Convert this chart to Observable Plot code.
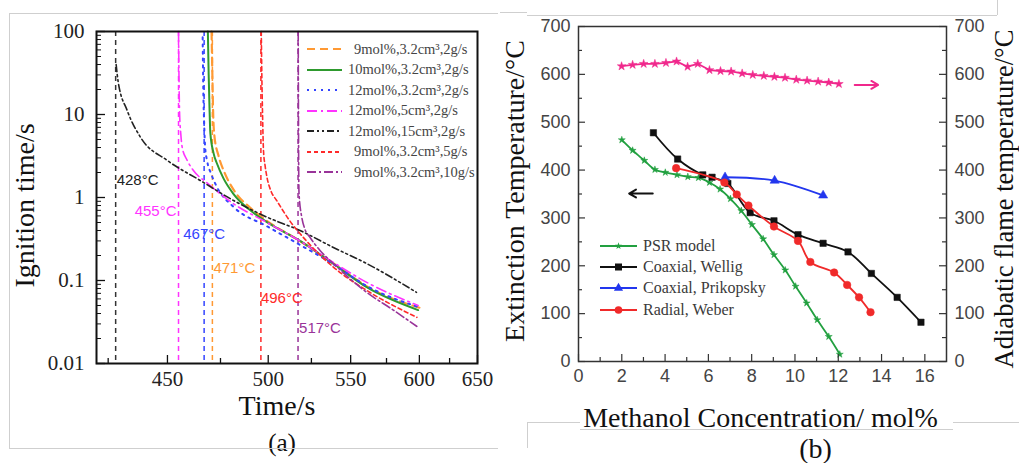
<!DOCTYPE html>
<html><head><meta charset="utf-8">
<script src="https://cdn.jsdelivr.net/npm/d3@7"></script>
<script src="https://cdn.jsdelivr.net/npm/@observablehq/plot@0.6"></script>
<style>
body{margin:0;background:#fff;width:1019px;height:463px;overflow:hidden;position:relative;font-family:"Liberation Serif",serif;}
.abs{position:absolute;}
.gl{position:absolute;background:#cfcfcf;}
.leg{position:absolute;display:flex;align-items:center;white-space:nowrap;}
</style></head><body>
<div id="pa" class="abs" style="left:0;top:0;width:500px;height:463px"></div>
<div id="pb" class="abs" style="left:500px;top:0;width:519px;height:463px"></div>
<div id="legA"></div>
<div id="legB"></div>
<div id="lines"></div>
<script>
// ---------- Panel (a) data ----------
const namesA = ["9mol%,3.2cm³,2g/s","10mol%,3.2cm³,2g/s","12mol%,3.2cm³,2g/s","12mol%,5cm³,2g/s","12mol%,15cm³,2g/s","9mol%,3.2cm³,5g/s","9mol%,3.2cm³,10g/s"];
const c9_32_2  = [[470.6,100],[471,30],[471.4,10],[472,5.5],[474,3.2],[477,2.0],[482,1.2],[490,0.76],[500,0.51],[518,0.30],[540,0.155],[562,0.083],[600,0.047]];
const c10_32_2 = [[468.8,100],[469.2,30],[469.6,12],[470,6],[471.6,3.4],[473.3,2.55],[476.5,1.7],[481.6,1.1],[490.3,0.70],[499.3,0.505],[518.2,0.30],[538.7,0.159],[560.9,0.083],[599,0.044]];
const c12_32_2 = [[466.3,85],[466.6,20],[467,8],[467.5,4],[468.4,2.8],[470.5,1.9],[473.3,1.33],[481.6,0.77],[499.3,0.45],[518,0.27],[538.7,0.157],[560.9,0.086],[599,0.048]];
const c12_5_2  = [[455,100],[455.2,30],[455.5,10],[456,6],[456.7,4.0],[459,2.8],[462,2.1],[468.4,1.5],[481.6,0.84],[499.3,0.5],[518,0.3],[538.7,0.165],[560.9,0.095],[599,0.05]];
const c12_15_2 = [[428.2,40],[429,25],[432.7,11.2],[438.3,5.3],[449.9,2.8],[465.2,1.6],[481.6,0.92],[499.3,0.58],[518.2,0.40],[538.7,0.25],[560.9,0.16],[597.7,0.072]];
const c9_32_5  = [[496.2,100],[496.5,30],[496.9,10],[497.4,3.7],[498.3,2.4],[499.3,1.76],[501.5,1.2],[504.7,0.92],[512,0.53],[522,0.30],[538.7,0.145],[560.9,0.076],[598,0.036]];
const c9_32_10 = [[517.1,100],[517.2,20],[517.3,5],[517.4,2],[517.6,1.1],[519.2,0.58],[521,0.42],[524.2,0.33],[530.3,0.23],[538.7,0.16],[560.9,0.072],[580,0.044],[598,0.028]];
const curvesA = [c9_32_2,c10_32_2,c12_32_2,c12_5_2,c12_15_2,c9_32_5,c9_32_10];
const onsetT = [428,455,467,471,496,517];
const onsetLabel = ["428°C","455°C","467°C","471°C","496°C","517°C"];
const onsetLabelV = [1.6,0.68,0.36,0.14,0.061,0.0264];
const xTicksA = [450,500,550,600,650];
const xMinorA = [425,475,525,575,625];
const yTicksA = [0.01,0.1,1,10,100];
// styles
const colorsA = ["#ff9933","#2e9a2e","#3344ff","#ff33ff","#222222","#ff2a2a","#993399"];
const dashA = ["8,5",null,"2,5","10,4,2,4","7,3,2,3,2,3","4,3","9,3,2,3"];
const widthA = [2.2,2,2,1.6,1.6,1.6,1.6];
const onsetColor = ["#333333","#ff33ff","#3344ff","#ff9933","#ff2a2a","#993399"];
const onsetAnchor = ["start","end","middle","start","start","start"];
const onsetDx = [1,-2,0,1,0,1];

// ---------- Panel (b) data ----------
const psrX = [2.0,2.5,3.04,3.53,4.01,4.55,5.05,5.54,6.05,6.54,7.02,7.52,8.01,8.53,9.03,9.55,10.03,10.54,11.03,11.56,12.07];
const psrY = [463,441,420,401,395,390,386,384,374,360,340,315,286,256,223,191,157,122,87,52,15];
const wellX = [3.46,4.58,5.74,6.17,6.9,7.93,9.03,10.14,11.3,12.45,13.53,14.72,15.82];
const wellY = [478,423,390,385,372,311,294,265,247,229,184,134,82];
const prikX = [6.77,9.06,11.3];
const prikY = [385,378,347];
const webX = [4.51,6.74,7.31,7.85,9.03,10.14,10.71,11.81,12.41,12.96,13.49];
const webY = [404,374,349,326,282,252,208,186,160,134,103];
const adiaX = [1.99,2.5,3.01,3.53,4.04,4.53,5.04,5.51,6.05,6.56,7.05,7.56,8.05,8.56,9.05,9.54,10.06,10.56,11.07,11.56,12.03];
const adiaY = [617,620,622,622,624,627,616,622,609,607,606,602,599,597,595,593,589,587,585,583,580];
const namesB = ["PSR model","Coaxial, Wellig","Coaxial, Prikopsky","Radial, Weber"];
const arrowLeftX = [3.43,2.34], arrowLeftY = [351,351];
const arrowRightX = [12.76,13.84], arrowRightY = [578,578];
const xTicksB = [0,2,4,6,8,10,12,14,16];
const xMinorB = [1,3,5,7,9,11,13,15];
const yTicksB = [0,100,200,300,400,500,600,700];
const yMinorB = [50,150,250,350,450,550,650];
const colorsB = ["#22a040","#111111","#2236ee","#f02a2a"];
const symbolsB = ["star","square","triangle","circle"];
const rB = [2.2,3.6,3.4,3.8];
const adiaColor = "#f0288c";

// ---------- Panel (a) plot ----------
const WA=500,HA=463,mA={l:96,r:23,t:31,b:100};
const fwA=WA-mA.l-mA.r, fhA=HA-mA.t-mA.b;
const yMinorA=[]; [0.01,0.1,1,10].forEach(d=>{for(let k=2;k<10;k++) yMinorA.push(d*k);});
const marksA=[];
onsetT.forEach((t,i)=>marksA.push(Plot.ruleX([t],{x:d=>d,stroke:onsetColor[i],strokeWidth:1.5,strokeDasharray:"5,4"})));
curvesA.forEach((c,i)=>marksA.push(Plot.line(c,{x:d=>d[0],y:d=>d[1],stroke:colorsA[i],strokeWidth:widthA[i],strokeDasharray:dashA[i]||undefined,curve:"monotone-x"})));
onsetT.forEach((t,i)=>marksA.push(Plot.text([onsetLabel[i]],{x:()=>t,y:()=>onsetLabelV[i],text:d=>d,fill:onsetColor[i]==="#333333"?"#222":onsetColor[i],textAnchor:onsetAnchor[i],dx:onsetDx[i],fontFamily:"Liberation Sans",fontSize:15})));
marksA.push(
  Plot.tickY(yTicksA,{y:d=>d,insetRight:fwA-9,stroke:"#111",strokeWidth:1.3}),
  Plot.tickY(yMinorA,{y:d=>d,insetRight:fwA-5,stroke:"#111",strokeWidth:1}),
  Plot.tickX(xTicksA,{x:d=>d,insetTop:fhA-8,stroke:"#111",strokeWidth:1.3}),
  Plot.tickX(xMinorA,{x:d=>d,insetTop:fhA-5,stroke:"#111",strokeWidth:1.3}),
  Plot.axisY({ticks:yTicksA,tickSize:0,tickPadding:12,tickFormat:d=>String(d),label:null,fontSize:21,fill:"#222"}),
  Plot.axisX({ticks:xTicksA,tickSize:0,tickPadding:8,tickFormat:d=>String(d),label:null,fontSize:21,fill:"#222"}),
  Plot.frame({stroke:"#111",strokeWidth:2}),
  Plot.text(["Ignition time/s"],{frameAnchor:"left",textAnchor:"middle",lineAnchor:"middle",rotate:-90,dx:-71,dy:8,fontSize:28,fill:"#111"}),
  Plot.text(["Time/s"],{frameAnchor:"bottom",textAnchor:"middle",lineAnchor:"middle",dy:43,dx:-10,fontSize:28,fill:"#111"}),
  Plot.text(["(a)"],{frameAnchor:"bottom",textAnchor:"middle",lineAnchor:"middle",dy:79,dx:-5,fontSize:25,fill:"#111"})
);
const plotA = Plot.plot({
  width:WA,height:HA,marginLeft:mA.l,marginRight:mA.r,marginTop:mA.t,marginBottom:mA.b,
  x:{type:"pow",exponent:-1,domain:[420.4,650]},
  y:{type:"log",domain:[0.01,100]},
  style:{fontFamily:"Liberation Serif",fontSize:"21px",background:"transparent",color:"#222"},
  marks:marksA
});
document.getElementById("pa").appendChild(plotA);

// ---------- Panel (b) plot ----------
const WB=519,HB=463,mB={l:78,r:73,t:26,b:102};
const fwB=WB-mB.l-mB.r, fhB=HB-mB.t-mB.b;
const seriesB=[[psrX,psrY],[wellX,wellY],[prikX,prikY],[webX,webY]];
const marksB=[];
const pairs=(X,Y)=>X.map((x,i)=>({x,y:Y[i]}));
marksB.push(Plot.line(pairs(adiaX,adiaY),{x:"x",y:"y",stroke:adiaColor,strokeWidth:1.8}));
marksB.push(Plot.dot(pairs(adiaX,adiaY),{x:"x",y:"y",symbol:"star",r:2.7,fill:adiaColor,stroke:adiaColor,strokeWidth:0.5}));
seriesB.forEach(([X,Y],i)=>{
  marksB.push(Plot.line(pairs(X,Y),{x:"x",y:"y",stroke:colorsB[i],strokeWidth:1.8,curve:"catmull-rom"}));
  marksB.push(Plot.dot(pairs(X,Y),{x:"x",y:"y",symbol:symbolsB[i],r:rB[i],fill:colorsB[i],stroke:colorsB[i],strokeWidth:0.5}));
});
marksB.push(
  Plot.arrow([0],{x1:()=>arrowLeftX[0],x2:()=>arrowLeftX[1],y1:()=>arrowLeftY[0],y2:()=>arrowLeftY[1],stroke:"#111",strokeWidth:2,headLength:8}),
  Plot.arrow([0],{x1:()=>arrowRightX[0],x2:()=>arrowRightX[1],y1:()=>arrowRightY[0],y2:()=>arrowRightY[1],stroke:adiaColor,strokeWidth:2,headLength:8}),
  Plot.tickY(yTicksB,{y:d=>d,insetRight:fwB-7,stroke:"#333",strokeWidth:1.2}),
  Plot.tickY(yMinorB,{y:d=>d,insetRight:fwB-4,stroke:"#333",strokeWidth:1.2}),
  Plot.tickY(yTicksB,{y:d=>d,insetLeft:fwB-7,stroke:"#333",strokeWidth:1.2}),
  Plot.tickY(yMinorB,{y:d=>d,insetLeft:fwB-4,stroke:"#333",strokeWidth:1.2}),
  Plot.tickX(xTicksB,{x:d=>d,insetTop:fhB-7,stroke:"#333",strokeWidth:1.2}),
  Plot.tickX(xMinorB,{x:d=>d,insetTop:fhB-4,stroke:"#333",strokeWidth:1.2}),
  Plot.axisY({anchor:"left",ticks:yTicksB,tickSize:0,tickPadding:8,label:null,fontSize:18,fill:"#444"}),
  Plot.axisY({anchor:"right",ticks:yTicksB,tickSize:0,tickPadding:8,label:null,fontSize:18,fill:"#444"}),
  Plot.axisX({ticks:xTicksB,tickSize:0,tickPadding:8,label:null,fontSize:18,fill:"#444"}),
  Plot.frame({stroke:"#333",strokeWidth:1.5}),
  Plot.text(["Extinction Temperature/°C"],{frameAnchor:"left",textAnchor:"middle",lineAnchor:"middle",rotate:-90,dx:-63,dy:-3,fontSize:28,fontFamily:"Liberation Serif",fill:"#111"}),
  Plot.text(["Adiabatic flame temperature/°C"],{frameAnchor:"right",textAnchor:"middle",lineAnchor:"middle",rotate:-90,dx:58,dy:5,fontSize:26.5,fontFamily:"Liberation Serif",fill:"#111"}),
  Plot.text(["Methanol Concentration/ mol%"],{frameAnchor:"bottom",textAnchor:"middle",lineAnchor:"middle",dy:57,dx:-2,fontSize:28,fontFamily:"Liberation Serif",fill:"#111"}),
  Plot.text(["(b)"],{frameAnchor:"bottom",textAnchor:"middle",lineAnchor:"middle",dy:88,dx:53,fontSize:28,fontFamily:"Liberation Serif",fill:"#111"})
);
const plotB = Plot.plot({
  width:WB,height:HB,marginLeft:mB.l,marginRight:mB.r,marginTop:mB.t,marginBottom:mB.b,
  x:{domain:[0,17]},y:{domain:[0,700]},
  style:{fontFamily:"Liberation Sans",fontSize:"18px",background:"transparent",color:"#444"},
  marks:marksB
});
document.getElementById("pb").appendChild(plotB);

// ---------- Legends ----------
const legA=document.getElementById("legA");
namesA.forEach((n,i)=>{
  const row=document.createElement("div");
  row.className="leg";
  row.style.left="307px"; row.style.top=(39+i*20.5)+"px"; row.style.height="20px";
  row.style.fontSize="14.5px"; row.style.color="#444";
  const indent = n.startsWith("9") ? 11 : 5;
  row.innerHTML=`<svg width="36" height="20"><line x1="0" x2="35" y1="10" y2="10" stroke="${colorsA[i]}" stroke-width="2" ${dashA[i]?`stroke-dasharray="${dashA[i]}"`:""}/></svg><span style="margin-left:${indent}px">${n}</span>`;
  legA.appendChild(row);
});
const legB=document.getElementById("legB");
namesB.forEach((n,i)=>{
  const row=document.createElement("div");
  row.className="leg";
  row.style.left="600px"; row.style.top=(236+i*21.2)+"px"; row.style.height="20px";
  row.style.fontSize="16px"; row.style.color="#3a3a3a";
  const c=colorsB[i]; let m="";
  if(i===0) m=`<path transform="translate(18.5,10)" d="${d3.symbol(d3.symbolStar,Math.PI*rB[0]*rB[0])()}" fill="${c}"/>`;
  if(i===1) m=`<rect x="15" y="6.5" width="7" height="7" fill="${c}"/>`;
  if(i===2) m=`<path transform="translate(18.5,10)" d="${d3.symbol(d3.symbolTriangle,Math.PI*rB[2]*rB[2])()}" fill="${c}"/>`;
  if(i===3) m=`<circle cx="18.5" cy="10" r="3.8" fill="${c}"/>`;
  row.innerHTML=`<svg width="38" height="20"><line x1="0" x2="37" y1="10" y2="10" stroke="${c}" stroke-width="2"/>${m}</svg><span style="margin-left:5px">${n}</span>`;
  legB.appendChild(row);
});

// ---------- faint page frame lines ----------
const L=[[9,13,489,1],[9,13,1,435],[9,448,489,1],[500,12,27,1],[527,15,470,1],[997,0,1,15],[527,422,53,1],[527,422,1,26],[580,429,373,1],[953,422,66,1]];
const lines=document.getElementById("lines");
L.forEach(([x,y,w,h])=>{const d=document.createElement("div");d.className="gl";Object.assign(d.style,{left:x+"px",top:y+"px",width:w+"px",height:h+"px"});lines.appendChild(d);});
</script>
</body></html>
